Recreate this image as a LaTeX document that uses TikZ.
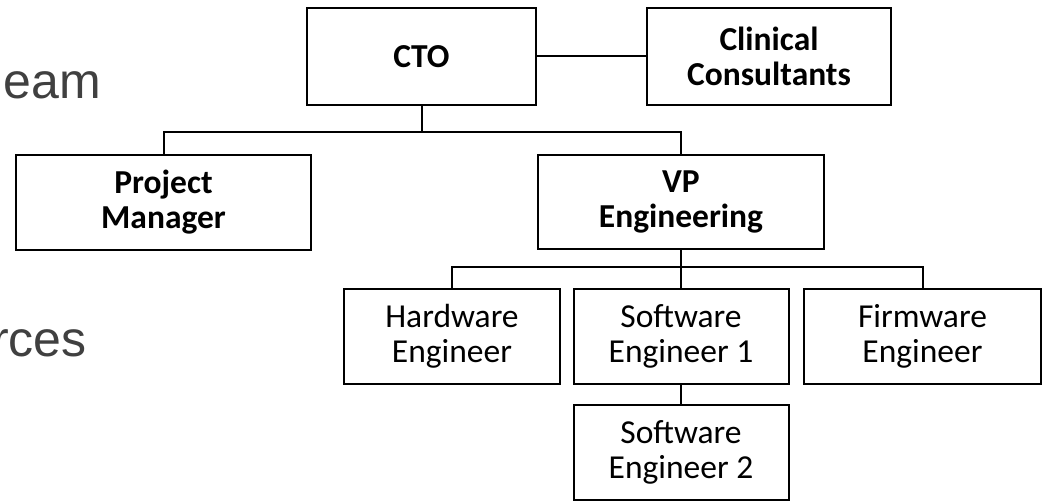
\documentclass[tikz,border=0pt]{standalone}
\usepackage{fontspec}
\setmainfont{Carlito}
\newfontfamily\slidefont{Liberation Sans}
\definecolor{slidegray}{RGB}{64,64,64}
\tikzset{
  orgbox/.style={draw=black, line width=2pt, inner sep=0pt, align=center,
    font=\fontsize{33.5}{35}\selectfont},
  headbox/.style={orgbox, font=\fontsize{33.5}{35}\selectfont\bfseries},
  link/.style={draw=black, line width=2pt},
  slidetext/.style={anchor=base east, inner sep=0pt, text=slidegray,
    font=\slidefont\fontsize{50}{56}\selectfont}
}
\begin{document}
\begin{tikzpicture}[x=1pt, y=-1pt]
  \useasboundingbox (0,0) rectangle (1045,502);
  \fill[white] (0,0) rectangle (1045,502);

  % fragments of the slide text on the left
  \node[slidetext] (t1) at (101,98.5) {eam};
  \node[slidetext] (t2) at (87,357) {rces};

  % top management
  \node[headbox, minimum width=229pt, minimum height=97pt] (cto) at (421.5,56.5) {CTO};
  \node[headbox, minimum width=244pt, minimum height=97pt] (clin) at (769,56.5) {Clinical\\Consultants};
  \node[headbox, minimum width=295pt, minimum height=95pt] (pm) at (163.5,202.5) {Project\\Manager};
  \node[headbox, minimum width=286pt, minimum height=94pt] (vp) at (681,202) {VP\\Engineering};

  % engineering team
  \node[orgbox, minimum width=216pt, minimum height=95pt] (hw) at (452,336.5) {Hardware\\Engineer};
  \node[orgbox, minimum width=215pt, minimum height=95pt] (sw1) at (681,336.5) {Software\\Engineer 1};
  \node[orgbox, minimum width=237pt, minimum height=95pt] (fw) at (922.5,336.5) {Firmware\\Engineer};
  \node[orgbox, minimum width=215pt, minimum height=95pt] (sw2) at (681,452.5) {Software\\Engineer 2};

  % connectors
  \coordinate (bus1) at (421.5,132);
  \coordinate (bus2) at (681,267);
  \draw[link] (cto.east) -- (clin.west);
  \draw[link] (cto.south) -- (bus1);
  \draw[link] (pm.north) |- (bus1) -| (vp.north);
  \draw[link] (vp.south) -- (bus2);
  \draw[link] (hw.north) |- (bus2) -| (fw.north);
  \draw[link] (bus2) -- (sw1.north);
  \draw[link] (sw1.south) -- (sw2.north);
\end{tikzpicture}
\end{document}
